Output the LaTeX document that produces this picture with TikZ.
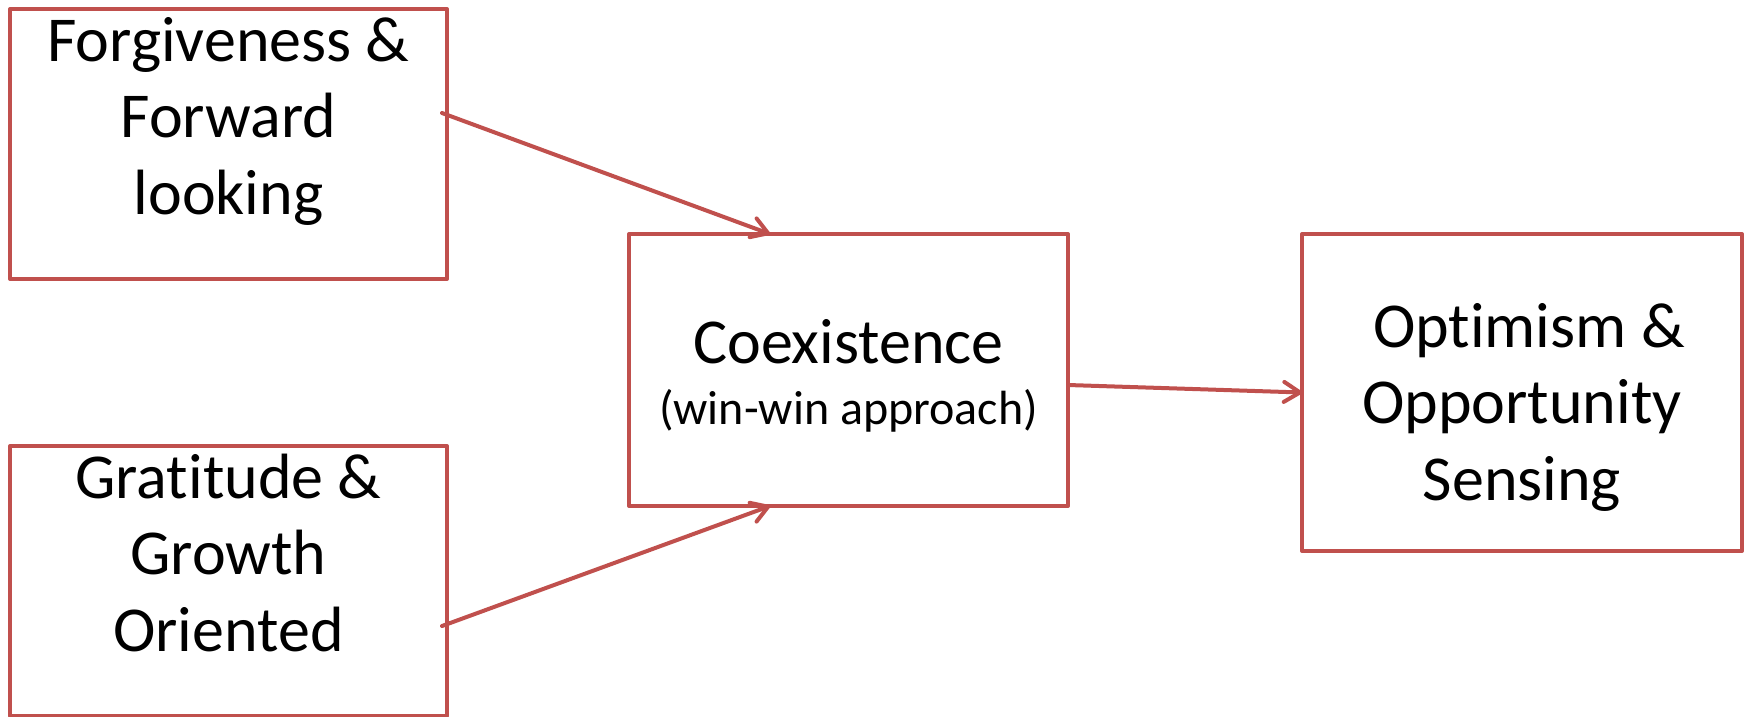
\documentclass[tikz,border=0pt]{standalone}
\usepackage{fontspec}
\setmainfont{Carlito}[Ligatures={NoCommon}]
\usetikzlibrary{arrows.meta}
\definecolor{boxred}{HTML}{C0504D}
\begin{document}
\begin{tikzpicture}[x=1pt,y=-1pt,
  box/.style={draw=boxred, line width=4pt, line join=round, inner sep=0pt, outer sep=0pt},
  bigtext/.style={anchor=base, inner sep=0pt, font=\fontsize{64}{76.5}\selectfont},
  smalltext/.style={anchor=base, inner sep=0pt, font=\fontsize{48}{58}\selectfont},
  conn/.style={draw=boxred, line width=4pt, line cap=round, -{Straight Barb[length=16pt, width=20pt, round]}}
]
\useasboundingbox (0,0) rectangle (1748,716);
% boxes
\node[box, minimum width=437pt, minimum height=270pt] (b1) at (228.5,144) {};
\node[box, minimum width=437pt, minimum height=270pt] (b2) at (228.5,581) {};
\node[box, minimum width=439pt, minimum height=272pt] (b3) at (848.5,370) {};
\node[box, minimum width=440pt, minimum height=317pt] (b4) at (1522,392.5) {};
% texts
\node[bigtext] (t1) at (228.5,61) {\begin{tabular}[t]{@{}c@{}}Forgiveness \&\\Forward\\looking\end{tabular}};
\node[bigtext] (t2) at (228.5,498) {\begin{tabular}[t]{@{}c@{}}Grat\kern0pt{}itude \&\\Growth\\Oriented\end{tabular}};
\node[bigtext] (t3) at (848.5,363) {Coexistence};
\node[smalltext] (t3b) at (848.5,424) {(win-win approach)};
\node[bigtext] (t4) at (1522,347) {\begin{tabular}[t]{@{}c@{}}\hspace*{14pt}Optimism \&\\Opportunity\\Sensing\end{tabular}};
% connectors
\draw[conn] ([xshift=-5pt,yshift=31pt]b1.east) -- ([xshift=141pt]b3.north west);
\draw[conn] ([xshift=-5pt,yshift=-45pt]b2.east) -- ([xshift=141pt]b3.south west);
\draw[conn] ([yshift=-15pt]b3.east) -- (b4.west);
\end{tikzpicture}
\end{document}
